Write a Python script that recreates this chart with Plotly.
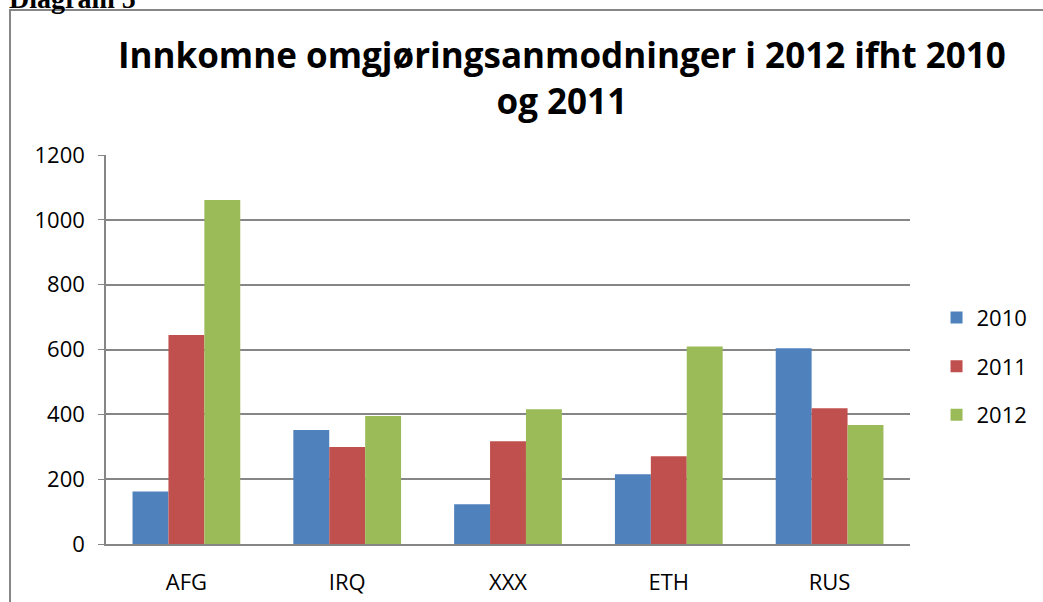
import plotly.graph_objects as go

# data
countries = ['AFG', 'IRQ', 'XXX', 'ETH', 'RUS']
years = ['2010', '2011', '2012']
v2010 = [162, 352, 123, 215, 604]
v2011 = [645, 299, 317, 271, 419]
v2012 = [1061, 395, 416, 609, 367]
colors = ['#4F81BD', '#C0504D', '#9BBB59']

fig = go.Figure()
for name, vals, col in zip(years, [v2010, v2011, v2012], colors):
    fig.add_trace(go.Bar(x=countries, y=vals, name=name,
                         marker=dict(color=col, line=dict(width=0)),
                         legendgroup=name))

font_main = 'Open Sans, Lato, sans-serif'
fig.update_layout(
    width=1043, height=602,
    margin=dict(l=106, r=133, t=155, b=58, autoexpand=False),
    paper_bgcolor='white', plot_bgcolor='white',
    barmode='group', bargap=0.33, bargroupgap=0,
    font=dict(family=font_main, size=22, color='black'),
    title=dict(text='<b>Innkomne omgjøringsanmodninger i 2012 ifht 2010<br>og 2011</b>',
               xref='paper', x=0.567, xanchor='center',
               yref='container', y=0.887, yanchor='top',
               font=dict(family=font_main, size=35, color='black')),
    legend=dict(x=1.033, y=0.457, xanchor='left', yanchor='middle',
                tracegroupgap=17, font=dict(size=22)),
    showlegend=True,
)
fig.update_xaxes(showline=True, linecolor='#868686', linewidth=1.5,
                 ticks='', showgrid=False, tickfont=dict(size=22),
                 ticklabelstandoff=18, automargin=False)
fig.update_yaxes(range=[0, 1200], tickvals=[0, 200, 400, 600, 800, 1000, 1200],
                 showline=True, linecolor='#868686', linewidth=1.5,
                 showgrid=True, gridcolor='#868686', gridwidth=1.5,
                 ticks='outside', ticklen=6, tickcolor='#868686',
                 tickfont=dict(size=22), zeroline=False,
                 ticklabelstandoff=9, automargin=False)

# outer chart frame and the caption above it (cut off at the top, as in the source)
fig.add_shape(type='rect', xref='paper', yref='paper',
              x0=-0.1194, x1=1.5, y0=-0.5, y1=1.3728,
              line=dict(color='#868686', width=2), layer='below')
fig.add_annotation(text='<b>Diagram 5</b>', xref='paper', yref='paper',
                   x=-0.1231, y=1.3573, xanchor='left', yanchor='bottom',
                   showarrow=False,
                   font=dict(family='Liberation Serif, serif', size=28, color='black'))

fig.write_html('out.html', config={'displayModeBar': False},
               post_script="document.body.style.margin='0';"
                           "document.body.style.overflow='hidden';")
